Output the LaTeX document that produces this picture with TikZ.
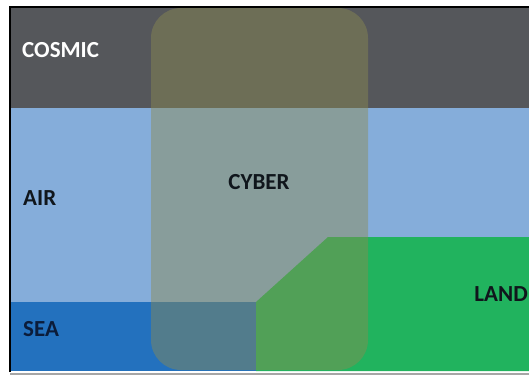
\documentclass[tikz,border=0pt]{standalone}
\usepackage{fontspec}
\setmainfont{Carlito}
\definecolor{cosmicc}{HTML}{55575B}
\definecolor{airc}{HTML}{85ADDA}
\definecolor{seac}{HTML}{2371BE}
\definecolor{landc}{HTML}{21B35E}
\definecolor{cyberc}{HTML}{8C8A50}
\definecolor{textdark}{HTML}{10161C}
\definecolor{seatext}{HTML}{0B1C3A}
\tikzset{
  region/.style={draw=none},
  lbl/.style={font=\fontsize{23}{25}\selectfont\bfseries, inner sep=0pt},
}
\begin{document}
\begin{tikzpicture}[x=1pt,y=-1pt]
\useasboundingbox (0,0) rectangle (529,375);
\fill[white] (0,0) rectangle (529,375);
% domains
\fill[region, cosmicc] (11,7) rectangle (529,108);
\fill[region, airc] (11,108) rectangle (529,302);
\fill[region, seac] (11,302) rectangle (256,371);
\fill[region, landc] (256,371) -- (256,302) -- (328,237) -- (529,237) -- (529,371) -- cycle;
% frame
\draw[black, line width=1.8pt] (10,372) -- (10,7) -- (529,7);
\draw[gray!70, line width=1.5pt] (10,374) -- (529,374);
% cyber overlay
\fill[region, cyberc, fill opacity=0.45, rounded corners=30pt] (151,8) rectangle (368,370);
% labels
\node[lbl, white, anchor=west] (cosmic) at (22,50) {COSMIC};
\node[lbl, textdark, anchor=west] (air) at (23,198.5) {AIR};
\node[lbl, textdark] (cyber) at (259,182.5) {CYBER};
\node[lbl, seatext, anchor=west] (sea) at (23,329.5) {SEA};
\node[lbl, textdark, anchor=east] (land) at (528,294) {LAND};
\end{tikzpicture}
\end{document}
